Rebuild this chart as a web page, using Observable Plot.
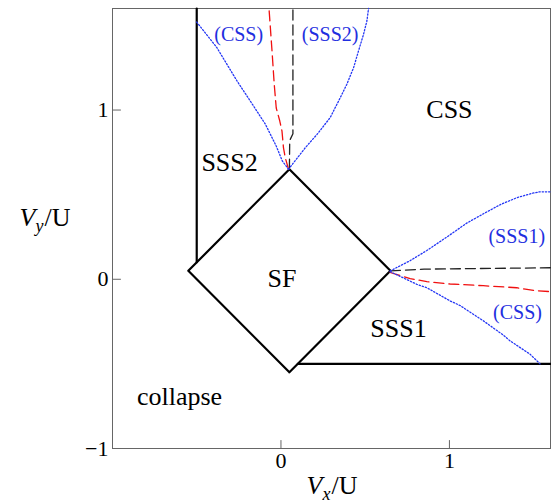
<!DOCTYPE html>
<html><head><meta charset="utf-8">
<script src="https://cdn.jsdelivr.net/npm/d3@7"></script>
<script src="https://cdn.jsdelivr.net/npm/@observablehq/plot@0.6"></script>
<style>body{margin:0;background:#fff}</style>
</head><body><div id="chart"></div>
<script>
const xDomain = [-1, 1.6];
const yDomain = [-1, 1.6];
const xTicks = [0, 1];
const yTicks = [-1, 0, 1];

// SF region (diamond) and solid phase boundaries
const sfDiamond = [[0.05,0.65],[0.65,0.05],[0.05,-0.55],[-0.55,0.05],[0.05,0.65]];
const sss2Boundary = [[-0.5,0.1],[-0.5,1.6]];
const sss1Boundary = [[0.1,-0.5],[1.6,-0.5]];

// blue dotted curves
const blueTopLeft = [[0.045,0.65],[0.008,0.699],[-0.028,0.787],[-0.093,0.917],[-0.182,1.053],[-0.261,1.172],[-0.38,1.368],[-0.5,1.52]];
const blueTopRight = [[0.045,0.65],[0.144,0.777],[0.214,0.856],[0.292,0.955],[0.342,1.053],[0.391,1.152],[0.431,1.25],[0.46,1.348],[0.49,1.447],[0.51,1.526],[0.52,1.6]];
const blueRightUpper = [[0.648,0.049],[0.767,0.11],[0.866,0.17],[1.0,0.26],[1.1,0.33],[1.2,0.386],[1.3,0.44],[1.4,0.482],[1.5,0.51],[1.538,0.517],[1.6,0.517]];
const blueRightLower = [[0.648,0.045],[0.807,-0.03],[0.866,-0.05],[1.004,-0.128],[1.063,-0.155],[1.202,-0.246],[1.32,-0.33],[1.36,-0.364],[1.479,-0.443],[1.538,-0.5]];

// red dashed curves
const redTop = [[0.045,0.65],[0.026,0.717],[0.015,0.776],[0.006,0.876],[-0.007,0.935],[-0.028,1.012],[-0.04,1.153],[-0.053,1.348],[-0.071,1.6]];
const redRight = [[0.648,0.04],[0.767,0.004],[0.866,-0.014],[1.004,-0.028],[1.2,-0.038],[1.4,-0.05],[1.5,-0.066],[1.6,-0.073]];

// black dashed curves
const blackTop = [[0.05,0.65],[0.052,0.82],[0.071,0.86],[0.071,1.6]];
const blackRight = [[0.65,0.05],[0.85,0.06],[1.6,0.068]];

// region labels
const regionText = ["CSS", "SSS2", "SF", "SSS1", "collapse"];
const regionX = [1.0, -0.305, 0.006, 0.698, -0.602];
const regionY = [1.004, 0.689, 0.005, -0.291, -0.695];

const curveText = ["(CSS)", "(SSS2)", "(SSS1)", "(CSS)"];
const curveX = [-0.251, 0.292, 1.40, 1.404];
const curveY = [1.447, 1.447, 0.251, -0.197];

const regions = regionText.map((t,i)=>({t, x: regionX[i], y: regionY[i]}));
const curveLabels = curveText.map((t,i)=>({t, x: curveX[i], y: curveY[i]}));

const px = d => d[0], py = d => d[1];
const tickShape = {draw(ctx, l) { ctx.moveTo(0, 0); ctx.lineTo(0, -l); }};
const blue = "#2336f5", blueText = "#1f2fe0";
const solid = {x: px, y: py, stroke: "#000", strokeWidth: 2.2};
const dotted = {x: px, y: py, stroke: blue, strokeWidth: 1.3, strokeDasharray: "1.3,1.9"};
const redDash = {x: px, y: py, stroke: "#f01010", strokeWidth: 1.3, strokeDasharray: "10,5"};
const blackDash = {x: px, y: py, stroke: "#222", strokeWidth: 1.3, strokeDasharray: "10,5"};

const chart = Plot.plot({
  width: 551, height: 504,
  marginLeft: 112, marginRight: 1, marginTop: 8, marginBottom: 56,
  x: {domain: xDomain, axis: null},
  y: {domain: yDomain, axis: null},
  style: {fontFamily: "'Liberation Serif', 'DejaVu Serif', serif", fontSize: "22px", color: "#000", background: "#fff"},
  marks: [
    Plot.frame({stroke: "#666", strokeWidth: 1}),
    Plot.vector(xTicks, {x: d => d, y: yDomain[0], length: 8, rotate: 0, anchor: "start", shape: tickShape, stroke: "#666", strokeWidth: 1}),
    Plot.vector(yTicks, {x: xDomain[0], y: d => d, length: 8, rotate: 90, anchor: "start", shape: tickShape, stroke: "#666", strokeWidth: 1}),
    Plot.axisX({ticks: xTicks, tickSize: 0, tickPadding: 4, fontSize: 22, label: null, tickFormat: d3.format("d")}),
    Plot.axisY({ticks: yTicks, tickSize: 0, tickPadding: 4, fontSize: 22, label: null, tickFormat: d3.format("d")}),
    Plot.line(sfDiamond, solid),
    Plot.line(sss2Boundary, solid),
    Plot.line(sss1Boundary, solid),
    Plot.line(blackTop, blackDash),
    Plot.line(blackRight, blackDash),
    Plot.line(redTop, redDash),
    Plot.line(redRight, redDash),
    Plot.line(blueTopLeft, dotted),
    Plot.line(blueTopRight, dotted),
    Plot.line(blueRightUpper, dotted),
    Plot.line(blueRightLower, dotted),
    Plot.text(regions, {x: "x", y: "y", text: "t", fontSize: 26, fill: "#000"}),
    Plot.text(curveLabels, {x: "x", y: "y", text: "t", fontSize: 20, fill: blueText})
  ]
});
document.getElementById("chart").appendChild(chart);

// axis titles with italic V and subscript
function axisTitle(x, y, sub) {
  const t = d3.select(chart).append("text")
    .attr("x", x).attr("y", y)
    .attr("text-anchor", "middle")
    .attr("font-family", "'Liberation Serif', serif")
    .attr("font-size", 26).attr("fill", "#000");
  t.append("tspan").attr("font-style", "italic").text("V");
  t.append("tspan").attr("font-style", "italic").attr("font-size", 18).attr("dy", 6).text(sub);
  t.append("tspan").attr("dy", -6).attr("dx", 1).text("/U");
}
axisTitle(45, 226, "y");
axisTitle(332, 494, "x");
</script>
</body></html>
